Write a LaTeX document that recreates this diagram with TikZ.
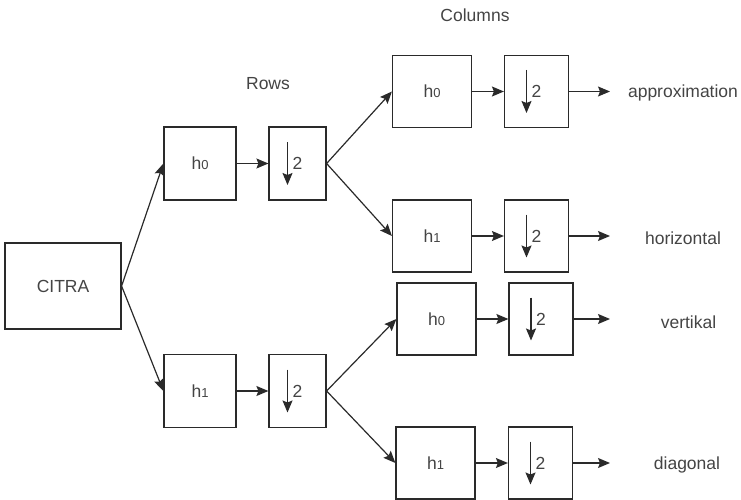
\documentclass[tikz,border=0pt]{standalone}
\usepackage{fontspec}
\setmainfont{Liberation Sans}
\usetikzlibrary{arrows.meta}
\definecolor{lineclr}{HTML}{2A2A2A}
\definecolor{txtclr}{HTML}{444444}
\tikzset{
  blok/.style={draw=lineclr, line width=1.2pt, fill=white, inner sep=0pt,
    text=txtclr, font=\fontsize{17.5}{20}\selectfont},
  citrabox/.style={blok, minimum width=116pt, minimum height=86pt},
  filt/.style={blok, minimum width=72pt, minimum height=73pt},
  turun/.style={blok, minimum width=57pt, minimum height=73pt},
  cfilt/.style={blok, minimum width=79pt, minimum height=72pt},
  cturun/.style={blok, minimum width=64pt, minimum height=72pt},
  lbl/.style={text=txtclr, font=\fontsize{17.5}{20}\selectfont, inner sep=0pt},
  panah/.style={draw=lineclr, line width=1.2pt, -{Stealth[length=12pt, width=10pt, inset=2pt]}},
}
\newcommand{\hsub}[1]{h{\fontsize{13}{15}\selectfont #1}}
\begin{document}
\begin{tikzpicture}[x=1pt, y=-1pt]
        \useasboundingbox (0, 0) rectangle (741, 500);

        % Input
        \node[citrabox] (citra) at (63, 286) {CITRA};

        % Rows
        \node[lbl] (rows) at (268, 84) {Rows};
        \node[filt] (r0) at (200, 163.5) {\hsub{0}};
        \node[turun] (rd0) at (297.5, 163.5) {2};
        \node[filt] (r1) at (200, 391) {\hsub{1}};
        \node[turun] (rd1) at (297.5, 391) {2};

        % Columns
        \node[lbl] (cols) at (475, 15) {Columns};
        \node[cfilt] (c00) at (432, 91.5) {\hsub{0}};
        \node[cturun] (cd00) at (536.5, 91.5) {2};
        \node[cfilt] (c01) at (432, 236) {\hsub{1}};
        \node[cturun] (cd01) at (536.5, 236) {2};
        \node[cfilt] (c10) at (436.5, 319) {\hsub{0}};
        \node[cturun] (cd10) at (541, 319) {2};
        \node[cfilt] (c11) at (435.5, 463) {\hsub{1}};
        \node[cturun] (cd11) at (540.5, 463) {2};

        % Outputs
        \node[lbl] (approx) at (683, 93) {approximation};
        \node[lbl] (horiz) at (683, 238) {horizontal};
        \node[lbl] (vert) at (688.5, 322) {vertikal};
        \node[lbl] (diag) at (687, 465) {diagonal};
        \coordinate (e00) at (610, 91.5);
        \coordinate (e01) at (610, 236);
        \coordinate (e10) at (610, 319);
        \coordinate (e11) at (610, 463);

        % Downsampling arrows
        \foreach \d in {rd0, rd1, cd00, cd01, cd10, cd11} {
            \draw[panah] ([shift={(-10, -21.5)}]\d.center) -- ([shift={(-10, 21.5)}]\d.center);
        }

        % Connectors
        \draw[panah] (citra.east) -- (r0.west);
        \draw[panah] (citra.east) -- (r1.west);
        \draw[panah] (r0) -- (rd0);
        \draw[panah] (r1) -- (rd1);
        \draw[panah] (rd0.east) -- (c00.west);
        \draw[panah] (rd0.east) -- (c01.west);
        \draw[panah] (rd1.east) -- (c10.west);
        \draw[panah] (rd1.east) -- (c11.west);
        \foreach \a/\b/\e in {c00/cd00/e00, c01/cd01/e01, c10/cd10/e10, c11/cd11/e11} {
            \draw[panah] (\a) -- (\b);
            \draw[panah] (\b) -- (\e);
        }
    \end{tikzpicture}
\end{document}
